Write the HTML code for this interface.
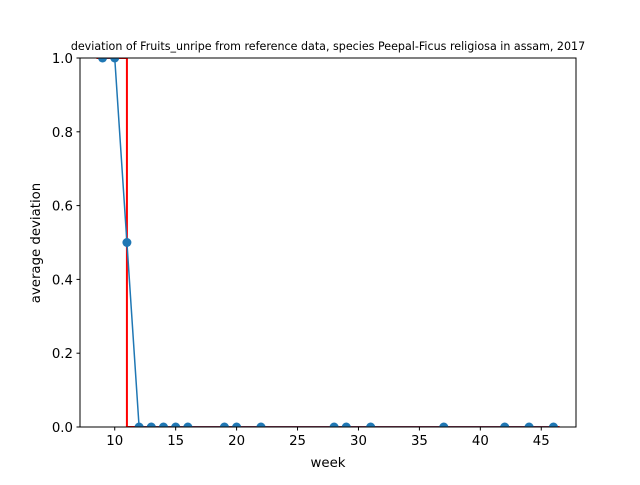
<!DOCTYPE html>
<html><head><meta charset="utf-8"><style>body{margin:0;background:#fff}svg text{font-family:"DejaVu Sans","Liberation Sans",sans-serif}</style></head>
<body>
<svg id="c" width="640" height="480" xmlns="http://www.w3.org/2000/svg"></svg>
<script>
const weeks=[9,10,11,12,13,14,15,16,19,20,22,28,29,31,37,42,44,46];
const deviation=[1,1,0.5,0,0,0,0,0,0,0,0,0,0,0,0,0,0,0];
const refWeeks=[8.5,11,11,46.5];
const refValues=[1,1,0,0];
const xTicks=[10,15,20,25,30,35,40,45];
const yTicks=[0,0.2,0.4,0.6,0.8,1.0];
const L=80,R=576,T=58,B=427,xmin=7.15,xmax=47.85;
const X=v=>L+(v-xmin)/(xmax-xmin)*(R-L);
const Y=v=>B-v*(B-T);
const s=document.getElementById('c');const NS='http://www.w3.org/2000/svg';
function mk(t,a,txt){const e=document.createElementNS(NS,t);for(const k in a)e.setAttribute(k,a[k]);if(txt!==undefined)e.textContent=txt;s.appendChild(e);return e;}
const cp=mk('clipPath',{id:'cp'});const cr=document.createElementNS(NS,'rect');cr.setAttribute('x',L);cr.setAttribute('y',T);cr.setAttribute('width',R-L);cr.setAttribute('height',B-T);cp.appendChild(cr);
let e=mk('polyline',{points:refWeeks.map((w,i)=>X(w)+','+Y(refValues[i])).join(' '),fill:'none',stroke:'#ff0000','stroke-width':2,'clip-path':'url(#cp)'});


e=mk('polyline',{points:weeks.map((w,i)=>X(w)+','+Y(deviation[i])).join(' '),fill:'none',stroke:'#1f77b4','stroke-width':1.5,'clip-path':'url(#cp)'});


weeks.forEach((w,i)=>{const c=mk('circle',{cx:X(w),cy:Y(deviation[i]),r:4.5,fill:'#1f77b4','clip-path':'url(#cp)'});

});
e=mk('rect',{x:L,y:T,width:R-L,height:B-T,fill:'none',stroke:'#000','stroke-width':1});


xTicks.forEach(t=>{mk('line',{x1:X(t),x2:X(t),y1:B,y2:B+3.5,stroke:'#000'});const tx=mk('text',{x:X(t),y:B+18,'text-anchor':'middle','font-size':13.3},t);

});
yTicks.forEach(t=>{mk('line',{x1:L-3.5,x2:L,y1:Y(t),y2:Y(t),stroke:'#000'});const tx=mk('text',{x:L-7,y:Y(t)+5,'text-anchor':'end','font-size':13.3},t.toFixed(1));

});
e=mk('text',{x:328,y:467,'text-anchor':'middle','font-size':13.3},'week');


e=mk('text',{x:40,y:243,'text-anchor':'middle','font-size':13.3,transform:'rotate(-90 40 243)'},'average deviation');


e=mk('text',{x:328,y:50,'text-anchor':'middle','font-size':11.1},'deviation of Fruits_unripe from reference data, species Peepal-Ficus religiosa in assam, 2017');


</script>
</body></html>
